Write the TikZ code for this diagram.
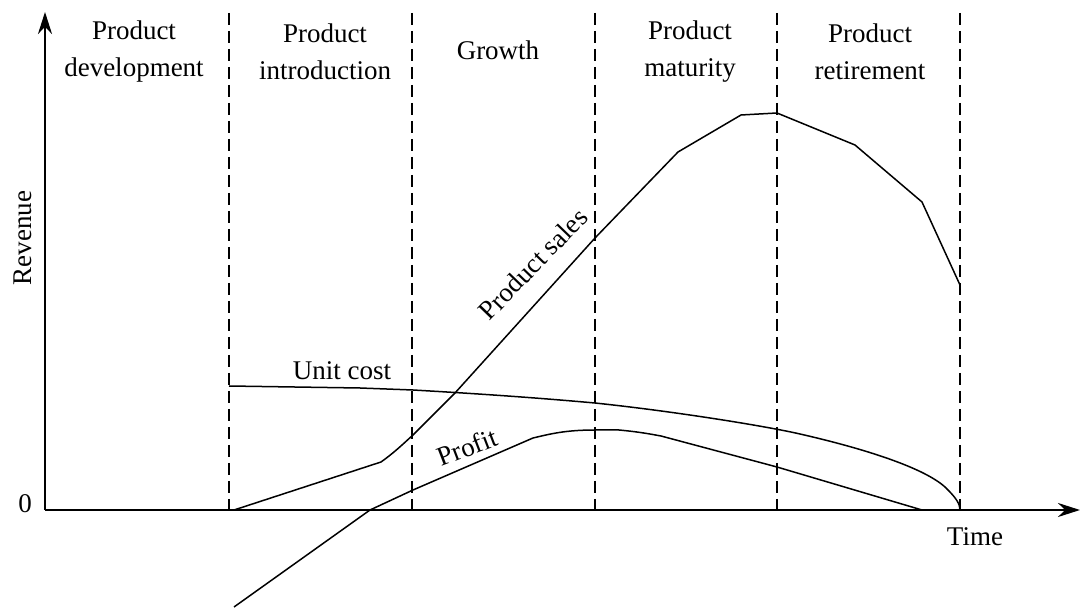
\documentclass[tikz,border=0pt]{standalone}
\usepackage{fontspec}
\setmainfont{Liberation Serif}
\usetikzlibrary{arrows.meta}
\begin{document}
\begin{tikzpicture}[x=1pt,y=-1pt,
  lbl/.style={font=\fontsize{27}{37}\selectfont, align=center, inner sep=0pt},
  axis/.style={line width=2.4pt, -{Stealth[length=22pt,width=14pt]}},
  phase/.style={line width=1.5pt, dash pattern=on 12pt off 6pt},
  curve/.style={line width=1.5pt, line join=round}]
\useasboundingbox (0,0) rectangle (1080,609);
\coordinate (o) at (45,510);
\coordinate (ytop) at (45,12);
\coordinate (xend) at (1080,510);
\draw[axis] (o) -- (ytop);
\draw[axis] (o) -- (xend);
% phase boundaries
\foreach \x/\n in {229/a,412/b,595/c,777/d,960/e}{
  \coordinate (\n top) at (\x,13);
  \coordinate (\n bot) at (\x,510);
  \draw[phase] (\n top) -- (\n bot);
}
% labels
\node[lbl] (pdev) at (134,52) {Product\\development};
\node[lbl] (pint) at (325,52) {Product\\introduction};
\node[lbl] (grow) at (498,50) {Growth};
\node[lbl] (pmat) at (690,52) {Product\\maturity};
\node[lbl] (pret) at (870,52) {Product\\retirement};
\node[lbl, rotate=90] (rev) at (23,238) {Revenue};
\node[lbl] (zero) at (25,504) {0};
\node[lbl] (time) at (975,537) {Time};
\node[lbl] (ucost) at (342,371) {Unit cost};
\node[lbl, rotate=21] (prof) at (467,447) {Profit};
\node[lbl, rotate=46] (psales) at (533,264) {Product sales};
% product sales
\draw[curve] (234,510) -- (381,462) .. controls (395,452) and (403,444) .. (413,435) -- (455,393) -- (595,238) -- (678,152) -- (741,115) -- (777,113) -- (855,145) -- (922,202) -- (960,285);
% unit cost
\draw[curve] (229,386) -- (360,388) -- (413,390) .. controls (500,395) and (550,399) .. (595,403) .. controls (680,412) and (770,427) .. (800,434) .. controls (870,450) and (930,470) .. (948,490) .. controls (956,498) and (960,504) .. (960,510);
% profit
\draw[curve] (234,607) -- (370,510) -- (413,490) -- (533,438) .. controls (550,434) and (565,430) .. (595,430) -- (619,430) .. controls (640,432) and (650,434) .. (661,436) -- (777,467) -- (922,510);
\end{tikzpicture}
\end{document}
